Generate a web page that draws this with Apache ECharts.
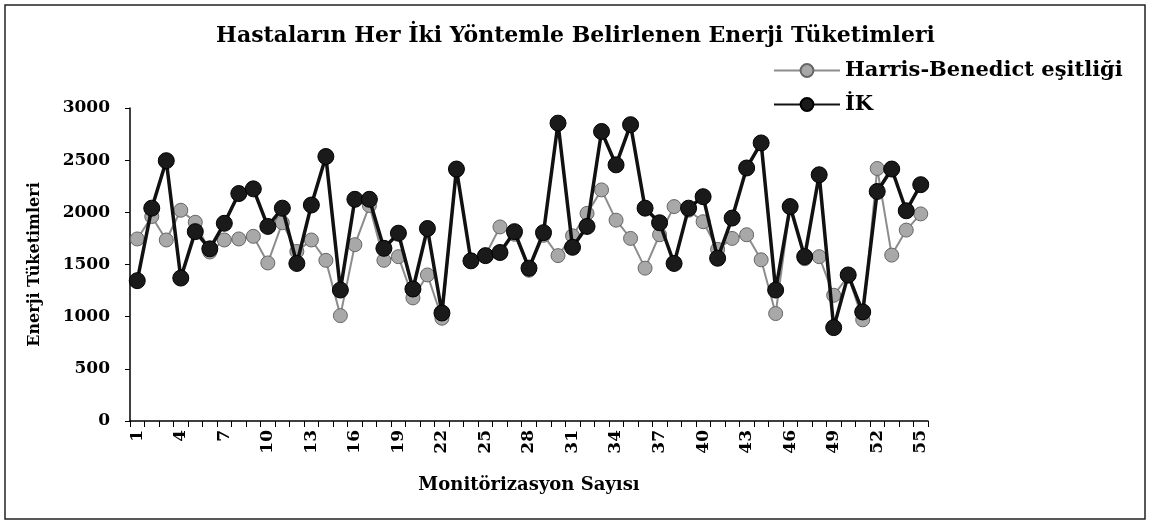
<!DOCTYPE html>
<html>
<head>
<meta charset="utf-8">
<script src="https://cdn.jsdelivr.net/npm/echarts@6/dist/echarts.min.js"></script>
<style>
  html, body { margin: 0; padding: 0; background: #fff; }
  #chart { width: 1151px; height: 527px; }
</style>
</head>
<body>
<div id="chart"></div>
<script>
// categories 1..55
const categories = ['1','2','3','4','5','6','7','8','9','10','11','12','13','14','15','16','17','18','19','20',
  '21','22','23','24','25','26','27','28','29','30','31','32','33','34','35','36','37','38','39','40',
  '41','42','43','44','45','46','47','48','49','50','51','52','53','54','55']

// Harris-Benedict (gri)
const harrisBenedict = [1745, 1960, 1735, 2020, 1905, 1620, 1735, 1745, 1770, 1515,
  1900, 1625, 1735, 1540, 1010, 1690, 2065, 1540, 1575, 1180,
  1400, 985, 2400, 1540, 1590, 1860, 1790, 1445, 1780, 1585,
  1775, 1990, 2215, 1925, 1750, 1465, 1785, 2055, 2020, 1910,
  1645, 1750, 1785, 1545, 1030, 2060, 1555, 1575, 1205, 1390,
  970, 2420, 1590, 1830, 1985]

// İK (siyah)
const ik = [1345, 2040, 2495, 1370, 1815, 1650, 1895, 2180, 2225, 1865,
  2040, 1510, 2070, 2535, 1255, 2125, 2125, 1655, 1800, 1265,
  1845, 1035, 2415, 1535, 1585, 1615, 1815, 1465, 1805, 2855,
  1665, 1865, 2775, 2455, 2840, 2040, 1900, 1510, 2040, 2150,
  1560, 1945, 2425, 2665, 1255, 2055, 1575, 2360, 895, 1400,
  1045, 2200, 2415, 2015, 2265]

const yTicks = [0, 500, 1000, 1500, 2000, 2500, 3000]

const serif = 'DejaVu Serif'
const chart = echarts.init(document.getElementById('chart'))

const option = {
  backgroundColor: '#fff',
  animation: false,
  title: {
    text: 'Hastaların Her İki Yöntemle Belirlenen Enerji Tüketimleri',
    left: 'center',
    top: 20,
    textStyle: { fontFamily: serif, fontWeight: 'bold', fontSize: 22, color: '#000' }
  },
  legend: {
    orient: 'vertical',
    left: 768,
    top: 55,
    itemWidth: 66,
    itemHeight: 16,
    itemGap: 13,
    textStyle: { fontFamily: serif, fontWeight: 'bold', fontSize: 21, color: '#000' },
    data: ['Harris-Benedict eşitliği', 'İK']
  },
  graphic: [{
    type: 'rect',
    shape: { x: 5, y: 5, width: 1140, height: 514 },
    style: { fill: null, stroke: '#222', lineWidth: 1.5 },
    silent: true
  }],
  grid: { left: 130, right: 223, top: 108, bottom: 106 },
  xAxis: {
    type: 'category',
    data: categories,
    boundaryGap: true,
    name: 'Monitörizasyon Sayısı',
    nameLocation: 'middle',
    nameGap: 55,
    nameTextStyle: { fontFamily: serif, fontWeight: 'bold', fontSize: 18, color: '#000' },
    axisLine: { lineStyle: { color: '#000', width: 1.5 } },
    axisTick: { show: true, interval: 0, length: 6, lineStyle: { color: '#000' } },
    axisLabel: {
      interval: 2, rotate: 90, margin: 9,
      fontFamily: serif, fontWeight: 'bold', fontSize: 17, color: '#000'
    }
  },
  yAxis: {
    type: 'value',
    min: yTicks[0],
    max: yTicks[yTicks.length - 1],
    interval: 500,
    name: 'Enerji Tüketimleri',
    nameLocation: 'middle',
    nameGap: 87,
    nameTextStyle: { fontFamily: serif, fontWeight: 'bold', fontSize: 16, color: '#000' },
    axisLine: { show: true, lineStyle: { color: '#000', width: 1.5 } },
    axisTick: { show: true, length: 5, lineStyle: { color: '#000' } },
    splitLine: { show: false },
    axisLabel: {
      margin: 20, fontFamily: serif, fontWeight: 'bold', fontSize: 17, color: '#000',
      formatter: v => String(v)
    }
  },
  series: [
    {
      name: 'Harris-Benedict eşitliği',
      type: 'line',
      data: harrisBenedict,
      symbol: 'circle',
      symbolSize: 14,
      showAllSymbol: true,
      lineStyle: { color: '#8c8c8c', width: 2 },
      itemStyle: { color: '#a8a8a8', borderColor: '#666', borderWidth: 1 },
      z: 2
    },
    {
      name: 'İK',
      type: 'line',
      data: ik,
      symbol: 'circle',
      symbolSize: 16,
      showAllSymbol: true,
      lineStyle: { color: '#111', width: 3.5 },
      itemStyle: { color: '#1a1a1a', borderColor: '#000', borderWidth: 1 },
      z: 3
    }
  ]
}
chart.setOption(option)
</script>
</body>
</html>
